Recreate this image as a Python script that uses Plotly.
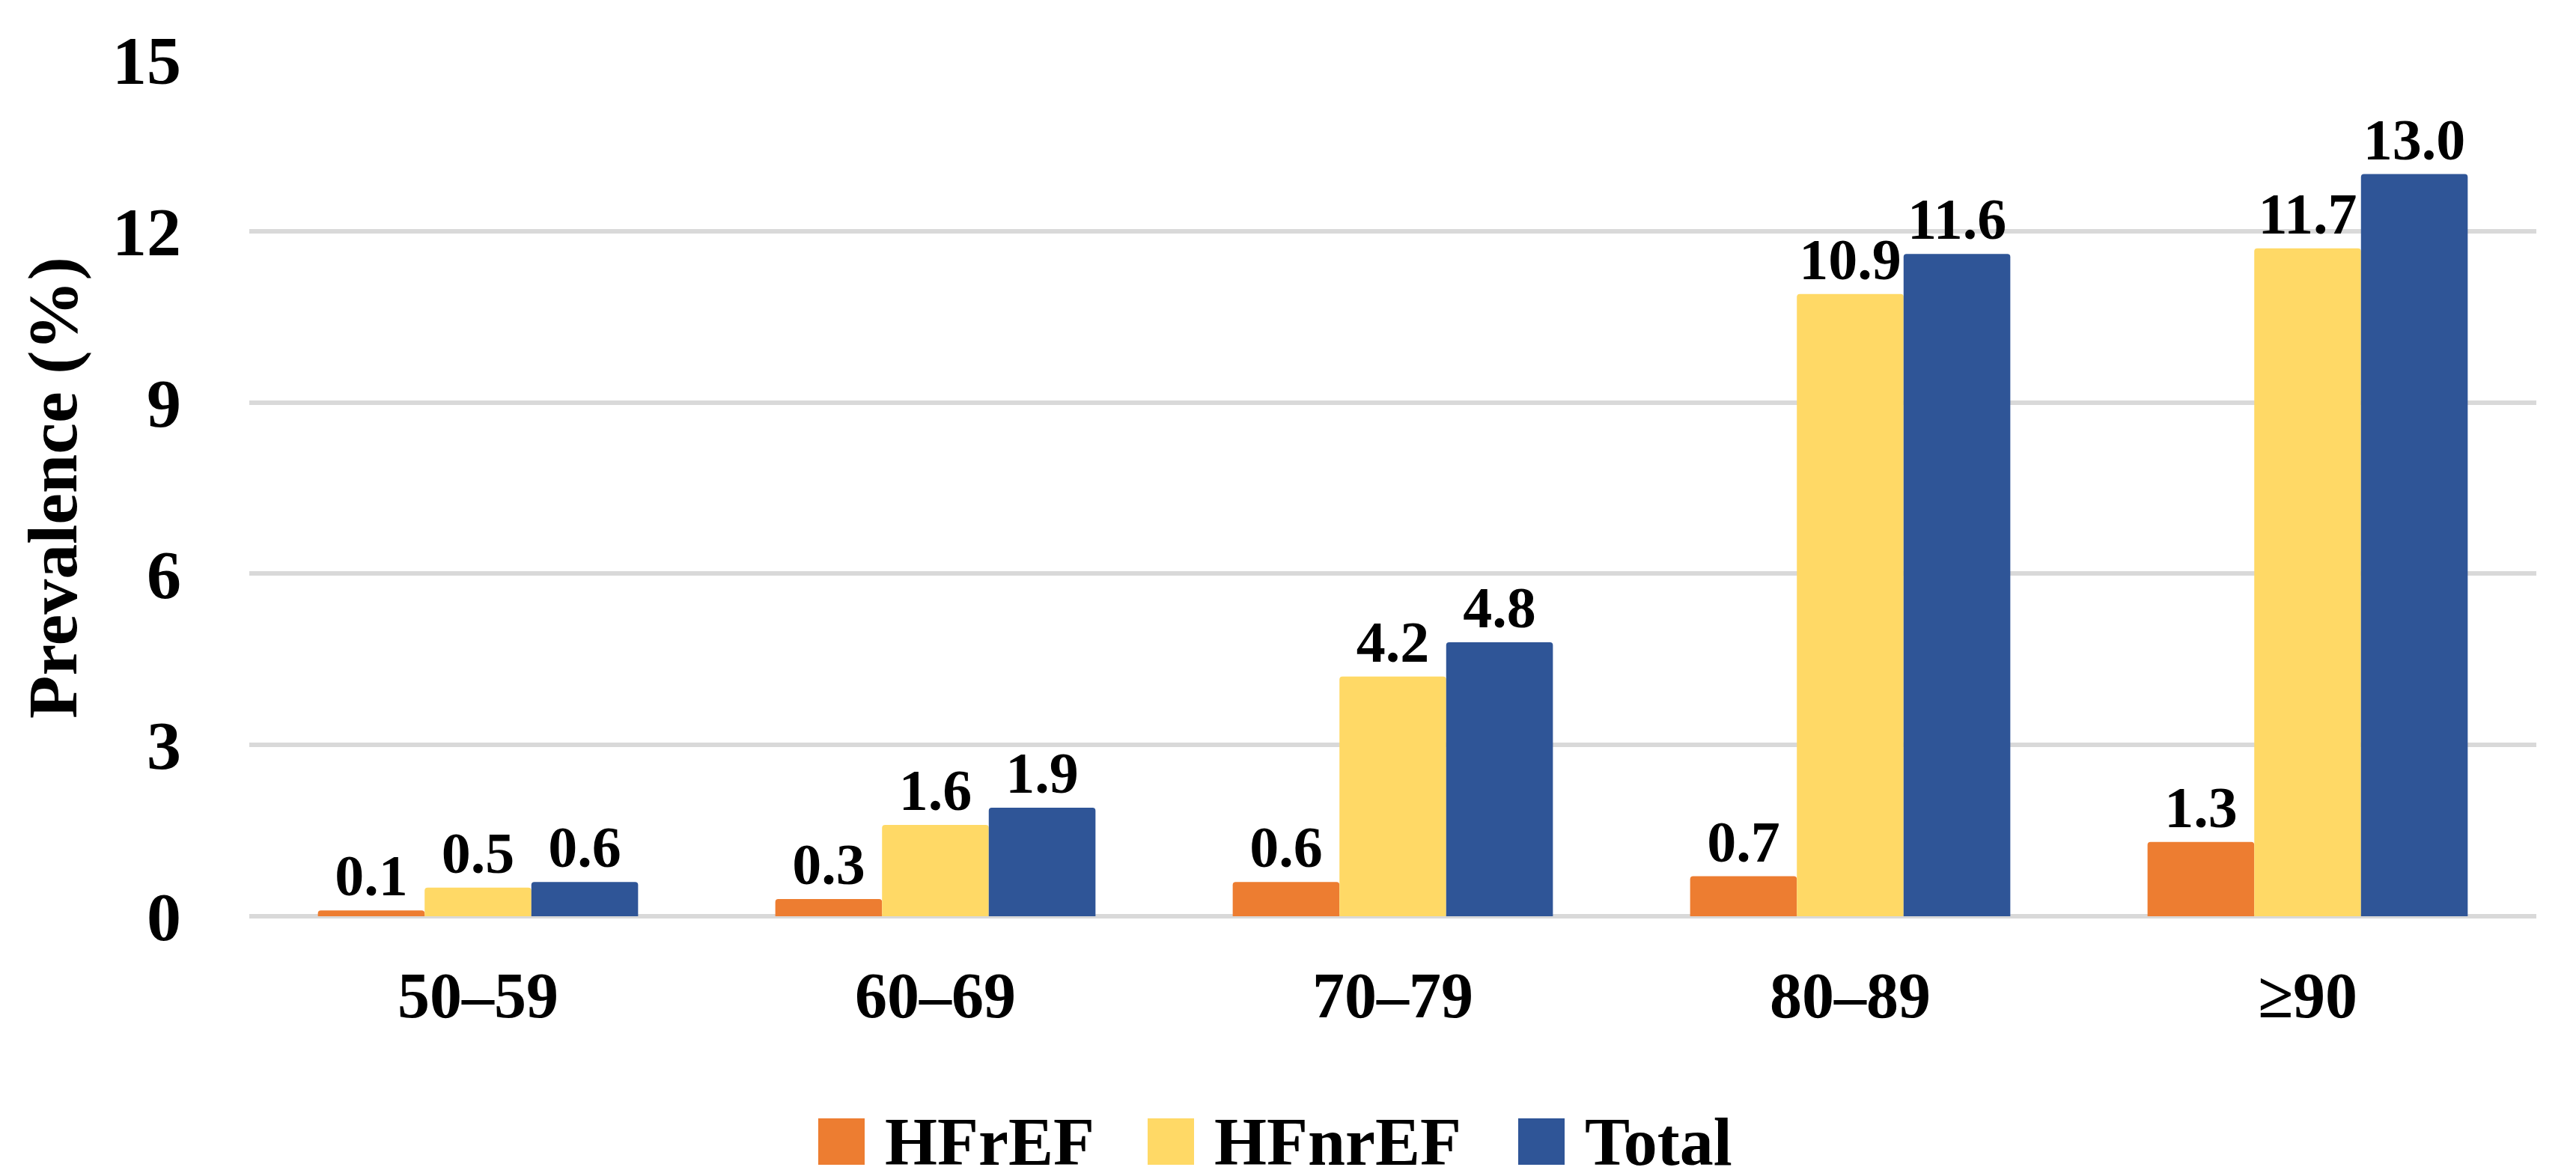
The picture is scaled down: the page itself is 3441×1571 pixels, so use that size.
import plotly.graph_objects as go

categories = ["50–59", "60–69", "70–79", "80–89", "≥90"]
series_names = ["HFrEF", "HFnrEF", "Total"]
hfref = [0.1, 0.3, 0.6, 0.7, 1.3]
hfnref = [0.5, 1.6, 4.2, 10.9, 11.7]
total = [0.6, 1.9, 4.8, 11.6, 13.0]
y_ticks = [0, 3, 6, 9, 12, 15]

colors = ["#ED7D31", "#FFD966", "#2F5597"]
values = [hfref, hfnref, total]

W, H = 3441, 1571
L, R, T, B = 325, 61, 72, 355
FONT = "Liberation Serif"

fig = go.Figure()
for name, vals, col in zip(series_names, values, colors):
    fig.add_trace(go.Bar(
        x=categories, y=vals, name=name,
        marker=dict(color=col, line=dict(width=0), cornerradius=4),
        text=[f"{v:.1f}" for v in vals],
        textposition="outside",
        constraintext="none",
        cliponaxis=False,
        textfont=dict(family=FONT, size=78, color="black", weight="bold"),
        showlegend=False,
    ))

fig.update_layout(
    width=W, height=H,
    margin=dict(l=L, r=R, t=T, b=B, autoexpand=False),
    paper_bgcolor="white", plot_bgcolor="white",
    barmode="group", bargap=0.3, bargroupgap=0,
    font=dict(family=FONT, color="black", weight="bold"),
)
fig.update_xaxes(
    showgrid=False, showline=False, ticks="",
    tickfont=dict(family=FONT, size=86, color="black", weight="bold"),
    ticklabelstandoff=48,
)
fig.update_yaxes(
    range=[0, 15], tickvals=y_ticks,
    showgrid=True, gridcolor="#D9D9D9", gridwidth=6,
    zeroline=True, zerolinecolor="#D9D9D9", zerolinewidth=6,
    showline=False, ticks="",
    tickfont=dict(family=FONT, size=92, color="black", weight="bold"),
    ticklabelstandoff=90,
)

# y-axis title
fig.add_annotation(
    text="Prevalence (%)", xref="paper", yref="paper",
    x=(62 - L) / (W - L - R), y=0.5, xanchor="center", yanchor="middle",
    textangle=-90, showarrow=False,
    font=dict(family=FONT, size=94, color="black", weight="bold"),
)

# custom legend with large swatches
plot_w = W - L - R
plot_h = H - T - B
legend_x = [1085, 1525, 2020]
legend_yc = 1517
sw = 62
for name, col, lx in zip(series_names, colors, legend_x):
    x0 = (lx - L) / plot_w
    x1 = (lx + sw - L) / plot_w
    y0 = (H - B - (legend_yc + sw / 2)) / plot_h
    y1 = (H - B - (legend_yc - sw / 2)) / plot_h
    fig.add_shape(type="rect", xref="paper", yref="paper",
                  x0=x0, x1=x1, y0=y0, y1=y1,
                  fillcolor=col, line=dict(width=0))
    fig.add_annotation(
        text=name, xref="paper", yref="paper",
        x=(lx + sw + 25 - L) / plot_w, y=(H - B - legend_yc) / plot_h,
        xanchor="left", yanchor="middle", showarrow=False,
        font=dict(family=FONT, size=90, color="black", weight="bold"),
    )

fig.write_html("out.html")
